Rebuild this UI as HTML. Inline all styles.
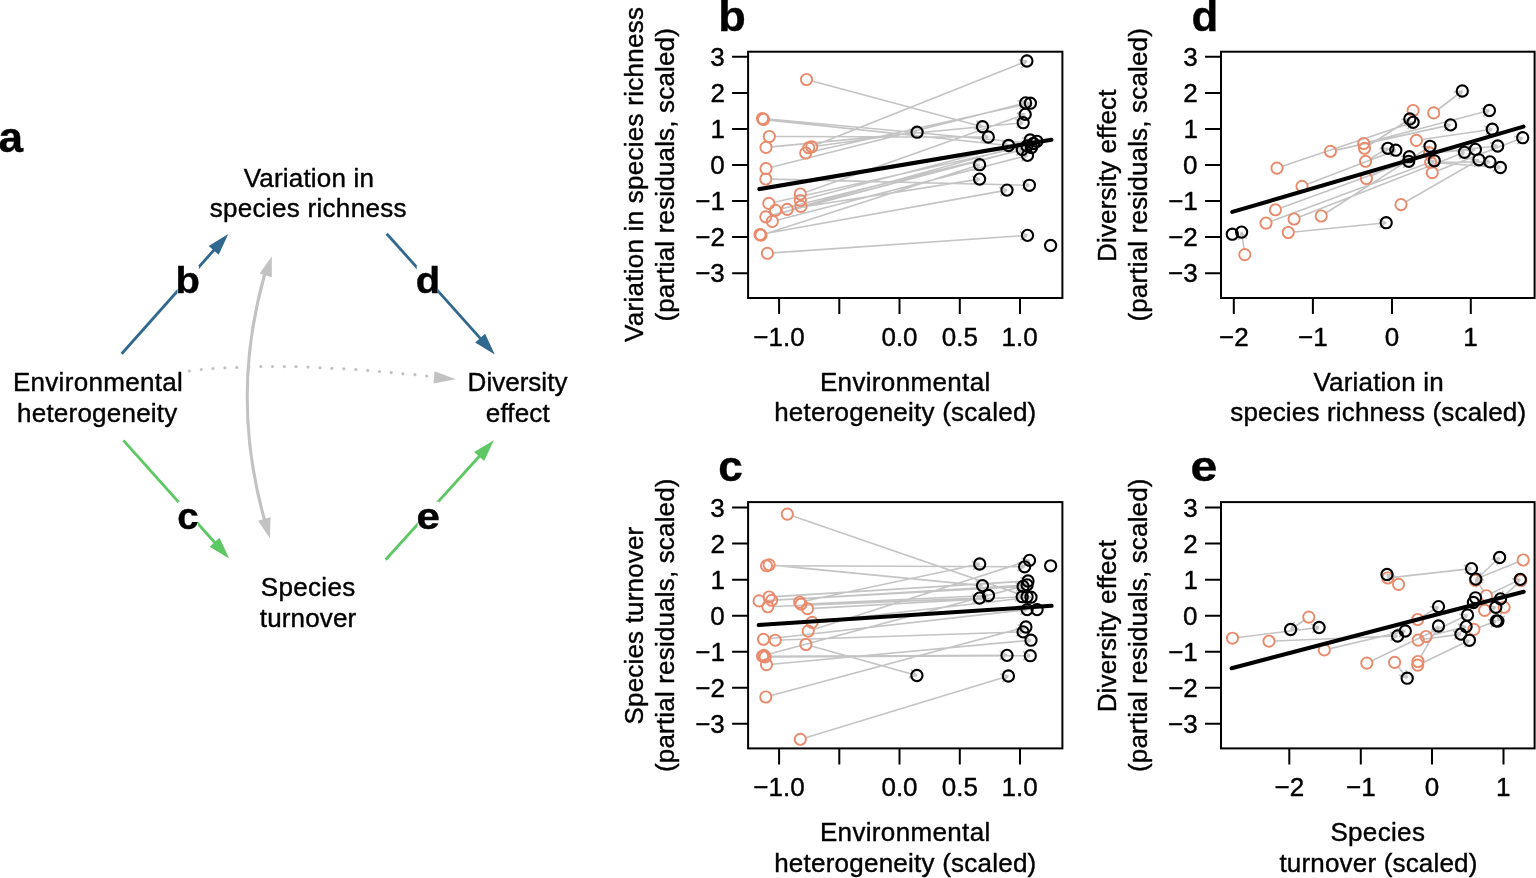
<!DOCTYPE html>
<html lang="en"><head><meta charset="utf-8"><title>Figure: environmental heterogeneity, species richness, turnover and diversity effect</title>
<style>html,body{margin:0;padding:0;background:#fff;}body{width:1536px;height:878px;overflow:hidden;}svg{display:block;}text{font-family:"Liberation Sans",Arial,Helvetica,sans-serif;font-size:26px;fill:#000;stroke:#000;stroke-width:0.4px;stroke-linejoin:round;}</style></head><body>
<svg width="1536" height="878" viewBox="0 0 1536 878">
<rect width="1536" height="878" fill="#fff"/>
<g id="pa">
<path d="M265.3 272L264.2 276Q230.2 397.5 264.3 519L265.4 523" fill="none" stroke="#c2c2c2" stroke-width="3.1" stroke-linejoin="round"/>
<polygon points="271.8,256.2 259.7,273.6 271.8,277.3" fill="#c2c2c2"/>
<polygon points="269.9,538.3 258.0,520.8 270.6,517.2" fill="#c2c2c2"/>
<circle cx="189.3" cy="371" r="1.6" fill="#c2c2c2"/>
<circle cx="201.3" cy="369.5" r="1.6" fill="#c2c2c2"/>
<circle cx="213" cy="368.5" r="1.6" fill="#c2c2c2"/>
<circle cx="224.9" cy="367.8" r="1.6" fill="#c2c2c2"/>
<circle cx="236.8" cy="367.4" r="1.6" fill="#c2c2c2"/>
<circle cx="248.8" cy="366.9" r="1.6" fill="#c2c2c2"/>
<circle cx="260.8" cy="366.6" r="1.6" fill="#c2c2c2"/>
<circle cx="272.5" cy="366.5" r="1.6" fill="#c2c2c2"/>
<circle cx="284.3" cy="366.6" r="1.6" fill="#c2c2c2"/>
<circle cx="296" cy="366.7" r="1.6" fill="#c2c2c2"/>
<circle cx="308" cy="367.1" r="1.6" fill="#c2c2c2"/>
<circle cx="320" cy="367.8" r="1.6" fill="#c2c2c2"/>
<circle cx="331.9" cy="368.3" r="1.6" fill="#c2c2c2"/>
<circle cx="343.8" cy="368.8" r="1.6" fill="#c2c2c2"/>
<circle cx="355.8" cy="369.5" r="1.6" fill="#c2c2c2"/>
<circle cx="367.7" cy="370.4" r="1.6" fill="#c2c2c2"/>
<circle cx="379.5" cy="371.5" r="1.6" fill="#c2c2c2"/>
<circle cx="391.2" cy="372.6" r="1.6" fill="#c2c2c2"/>
<circle cx="402.9" cy="373.8" r="1.6" fill="#c2c2c2"/>
<circle cx="415" cy="374.7" r="1.6" fill="#c2c2c2"/>
<circle cx="426.7" cy="376" r="1.6" fill="#c2c2c2"/>
<polygon points="455.7,379.3 434.5,371.2 433.6,383.6" fill="#c2c2c2"/>
<line x1="121.7" y1="353.7" x2="214.34" y2="249.59" stroke="#31688e" stroke-width="2.8"/><polygon points="228.3,233.9 218.68,254.79 208.67,245.88" fill="#31688e"/>
<line x1="386.7" y1="233.7" x2="480.8" y2="338.85" stroke="#31688e" stroke-width="2.8"/><polygon points="494.8,354.5 475.14,342.57 485.12,333.64" fill="#31688e"/>
<line x1="123.4" y1="440.4" x2="215.19" y2="542.95" stroke="#5dc863" stroke-width="2.8"/><polygon points="229.2,558.6 209.54,546.68 219.52,537.74" fill="#5dc863"/>
<line x1="385.6" y1="559.7" x2="479.8" y2="455.76" stroke="#5dc863" stroke-width="2.8"/><polygon points="493.9,440.2 484.09,461 474.16,452" fill="#5dc863"/>
<rect x="177.5" y="265.7" width="21.4" height="27.6" fill="#fff"/>
<text transform="translate(178.1 292.7) scale(1.0811 1)" x="-2.41" y="0" font-weight="bold" style="font-size:37px">b</text>
<rect x="416.7" y="265.7" width="21.4" height="27.6" fill="#fff"/>
<text transform="translate(417.3 292.7) scale(1.0811 1)" x="-1.48" y="0" font-weight="bold" style="font-size:37px">d</text>
<rect x="178.2" y="501.7" width="19.8" height="27.6" fill="#fff"/>
<text transform="translate(178.8 528.7) scale(1.0365 1)" x="-1.48" y="0" font-weight="bold" style="font-size:37px">c</text>
<rect x="417.7" y="501.7" width="21.4" height="27.6" fill="#fff"/>
<text transform="translate(418.3 528.7) scale(1.1374 1)" x="-1.48" y="0" font-weight="bold" style="font-size:37px">e</text>
<text x="243.67" y="186.5" textLength="130.29" lengthAdjust="spacing">Variation in</text>
<text x="209.72" y="217.2" textLength="196.75" lengthAdjust="spacing">species richness</text>
<text x="12.92" y="391.2" textLength="169.83" lengthAdjust="spacing">Environmental</text>
<text x="17.08" y="421.8" textLength="160.16" lengthAdjust="spacing">heterogeneity</text>
<text x="467.62" y="391.4" textLength="99.77" lengthAdjust="spacing">Diversity</text>
<text x="485.83" y="421.7" textLength="63.87" lengthAdjust="spacing">effect</text>
<text x="260.73" y="596.3" textLength="94.52" lengthAdjust="spacing">Species</text>
<text x="259.81" y="626.8" textLength="96.37" lengthAdjust="spacing">turnover</text>
<text transform="translate(-0.3 151.9) scale(1.0259 1)" x="-1.29" y="0" font-weight="bold" style="font-size:43px">a</text>
</g>
<g id="pb">
<path d="M811.91 80.95L982.5 126.7M976.49 120.69L982.5 126.7M974.29 128.9L982.5 126.7M768.08 119.01L1033.5 143.5M1026.56 138.59L1033.5 143.5M1025.78 147.06L1033.5 143.5M769.07 120.09L1008.6 145.5M1001.73 140.5L1008.6 145.5M1000.83 148.95L1008.6 145.5M774.9 136.51L988.3 137M980.95 132.73L988.3 137M980.93 141.23L988.3 137M771.57 146.86L1023.2 122.7M1015.47 119.17L1023.2 122.7M1016.28 127.63L1023.2 122.7M817.25 146.03L917.1 132.2M909.23 129L917.1 132.2M910.39 137.42L917.1 132.2M813.9 145.73L1026.9 61M1018.49 59.77L1026.9 61M1021.63 67.67L1026.9 61M811.17 151.79L1030.4 103.2M1022.29 100.64L1030.4 103.2M1024.13 108.94L1030.4 103.2M771.43 167.23L1025.6 102.9M1017.42 100.59L1025.6 102.9M1019.51 108.83L1025.6 102.9M771.4 179.13L1029.4 185.3M1022.14 180.88L1029.4 185.3M1021.94 189.37L1029.4 185.3M805.58 192.13L1025.2 114.4M1016.84 112.85L1025.2 114.4M1019.68 120.86L1025.2 114.4M805.72 199.07L1030.2 140M1022 137.76L1030.2 140M1024.16 145.98L1030.2 140M806.3 204.91L1036.9 141.3M1028.67 139.16L1036.9 141.3M1030.93 147.35L1036.9 141.3M774.27 202.18L1027 146M1018.89 143.45L1027 146M1020.74 151.75L1027 146M780.94 208.97L1031.5 147.5M1023.34 145.13L1031.5 147.5M1025.36 153.38L1031.5 147.5M792.73 208.53L979.6 179.1M971.67 176.05L979.6 179.1M972.99 184.44L979.6 179.1M771.22 215.38L1022.3 149.5M1014.1 147.26L1022.3 149.5M1016.26 155.48L1022.3 149.5M777.72 220L1027.5 155.4M1019.31 153.13L1027.5 155.4M1021.44 161.36L1027.5 155.4M765.51 233.51L1007 190.1M999 187.22L1007 190.1M1000.51 195.59L1007 190.1M766.33 233.48L979.6 164.7M971.29 162.91L979.6 164.7M973.9 171L979.6 164.7M772.99 252.92L1027.5 235.4M1019.86 231.67L1027.5 235.4M1020.45 240.15L1027.5 235.4" stroke="#c4c4c4" stroke-width="1.6" fill="none"/>
<g fill="none" stroke="#e98a6c" stroke-width="1.9">
<circle cx="806.5" cy="79.5" r="5.6"/>
<circle cx="762.5" cy="118.5" r="5.6"/>
<circle cx="763.5" cy="119.5" r="5.6"/>
<circle cx="769.3" cy="136.5" r="5.6"/>
<circle cx="766" cy="147.4" r="5.6"/>
<circle cx="811.7" cy="146.8" r="5.6"/>
<circle cx="808.7" cy="147.8" r="5.6"/>
<circle cx="805.7" cy="153" r="5.6"/>
<circle cx="766" cy="168.6" r="5.6"/>
<circle cx="765.8" cy="179" r="5.6"/>
<circle cx="800.3" cy="194" r="5.6"/>
<circle cx="800.3" cy="200.5" r="5.6"/>
<circle cx="800.9" cy="206.4" r="5.6"/>
<circle cx="768.8" cy="203.4" r="5.6"/>
<circle cx="775.5" cy="210.3" r="5.6"/>
<circle cx="787.2" cy="209.4" r="5.6"/>
<circle cx="765.8" cy="216.8" r="5.6"/>
<circle cx="772.3" cy="221.4" r="5.6"/>
<circle cx="760" cy="234.5" r="5.6"/>
<circle cx="761" cy="235.2" r="5.6"/>
<circle cx="767.4" cy="253.3" r="5.6"/>
</g>
<g fill="none" stroke="#000" stroke-width="2.1">
<circle cx="1026.9" cy="61" r="5.6"/>
<circle cx="1025.6" cy="102.9" r="5.6"/>
<circle cx="1030.4" cy="103.2" r="5.6"/>
<circle cx="1025.2" cy="114.4" r="5.6"/>
<circle cx="1023.2" cy="122.7" r="5.6"/>
<circle cx="982.5" cy="126.7" r="5.6"/>
<circle cx="988.3" cy="137" r="5.6"/>
<circle cx="917.1" cy="132.2" r="5.6"/>
<circle cx="1008.6" cy="145.5" r="5.6"/>
<circle cx="1030.2" cy="140" r="5.6"/>
<circle cx="1036.9" cy="141.3" r="5.6"/>
<circle cx="1027" cy="146" r="5.6"/>
<circle cx="1022.3" cy="149.5" r="5.6"/>
<circle cx="1031.5" cy="147.5" r="5.6"/>
<circle cx="1027.5" cy="155.4" r="5.6"/>
<circle cx="1033.5" cy="143.5" r="5.6"/>
<circle cx="979.6" cy="164.7" r="5.6"/>
<circle cx="979.6" cy="179.1" r="5.6"/>
<circle cx="1007" cy="190.1" r="5.6"/>
<circle cx="1029.4" cy="185.3" r="5.6"/>
<circle cx="1027.5" cy="235.4" r="5.6"/>
<circle cx="1050.6" cy="245.5" r="5.6"/>
</g>
<line x1="759.4" y1="189.1" x2="1051.4" y2="139.7" stroke="#000" stroke-width="4.1" stroke-linecap="round"/>
<rect x="748.1" y="51.7" width="314.3" height="246.3" fill="none" stroke="#000" stroke-width="2"/>
<text transform="translate(711.38 66.15) scale(1.0000 1)" x="-1.04" y="0">3</text>
<text transform="translate(711.77 102.2) scale(1.0000 1)" x="-1.3" y="0">2</text>
<text transform="translate(712.42 138.25) scale(1.0000 1)" x="-1.95" y="0">1</text>
<text transform="translate(711.25 174.3) scale(1.0000 1)" x="-1.04" y="0">0</text>
<text x="695.26" y="210.35" textLength="29.64" lengthAdjust="spacing">−1</text>
<text x="695.26" y="246.4" textLength="29.64" lengthAdjust="spacing">−2</text>
<text x="695.13" y="282.45" textLength="29.64" lengthAdjust="spacing">−3</text>
<text x="753.3" y="345.6" textLength="51.33" lengthAdjust="spacing">−1.0</text>
<text x="881.43" y="345.6" textLength="36.14" lengthAdjust="spacing">0.0</text>
<text x="941.73" y="345.6" textLength="36.14" lengthAdjust="spacing">0.5</text>
<text x="1001.47" y="345.6" textLength="36.14" lengthAdjust="spacing">1.0</text>
<path d="M732.1 56.85H748.1M732.1 92.9H748.1M732.1 128.95H748.1M732.1 165H748.1M732.1 201.05H748.1M732.1 237.1H748.1M732.1 273.15H748.1M779.1 298V314M839.3 298V314M899.5 298V314M959.8 298V314M1020 298V314" stroke="#000" stroke-width="2" fill="none"/>
<text transform="translate(642.9 341.75) rotate(-90)" x="-0.13" y="0" textLength="334.81" lengthAdjust="spacing">Variation in species richness</text>
<text transform="translate(674.1 320.05) rotate(-90)" x="-1.56" y="0" textLength="293.55" lengthAdjust="spacing">(partial residuals, scaled)</text>
<text x="819.92" y="391" textLength="170.33" lengthAdjust="spacing">Environmental</text>
<text x="774.13" y="421.4" textLength="262.11" lengthAdjust="spacing">heterogeneity (scaled)</text>
<text transform="translate(721.1 30.5) scale(1.0500 1)" x="-2.79" y="0" font-weight="bold" style="font-size:43px">b</text>
</g>
<g id="pc">
<path d="M792.59 515.92L1027.1 596.7M1021.52 590.28L1027.1 596.7M1018.76 598.32L1027.1 596.7M772.1 565.82L1024.6 566.8M1017.26 562.52L1024.6 566.8M1017.22 571.02L1024.6 566.8M774.67 565.34L982.5 585.6M975.59 580.66L982.5 585.6M974.76 589.12L982.5 585.6M764.69 600.59L1023.1 586.4M1015.52 582.56L1023.1 586.4M1015.98 591.05L1023.1 586.4M774.69 596.65L1028 581M1020.39 577.21L1028 581M1020.91 585.7L1028 581M777.29 599.96L1027.1 584.9M1019.5 581.1L1027.1 584.9M1020.01 589.59L1027.1 584.9M773.4 606.57L979.5 598.1M971.97 594.16L979.5 598.1M972.32 602.65L979.5 598.1M805.18 601.04L979.7 564M971.62 561.37L979.7 564M973.38 569.69L979.7 564M806.59 603.94L988.5 595.5M980.95 591.6L988.5 595.5M981.34 600.09L988.5 595.5M813.09 608.39L1022.2 596.7M1014.61 592.87L1022.2 596.7M1015.09 601.35L1022.2 596.7M817.66 621.76L1031 597.2M1023.2 593.82L1031 597.2M1024.17 602.26L1031 597.2M813.53 629.4L1029.5 560.4M1021.19 558.59L1029.5 560.4M1023.78 566.69L1029.5 560.4M769.06 638.67L1027.1 609.6M1019.31 606.2L1027.1 609.6M1020.26 614.65L1027.1 609.6M780.8 640.01L1023.1 631.9M1015.6 627.9L1023.1 631.9M1015.89 636.39L1023.1 631.9M811.29 646.01L916.9 675.5M910.95 669.43L916.9 675.5M908.67 677.61L916.9 675.5M768.2 656.18L1007 655.4M999.62 651.17L1007 655.4M999.65 659.67L1007 655.4M770.8 656.87L1030.3 655.7M1022.92 651.48L1030.3 655.7M1022.96 659.98L1030.3 655.7M772.08 664.18L1031 640.2M1023.28 636.65L1031 640.2M1024.06 645.11L1031 640.2M771.21 695.54L1025.9 627M1017.69 624.81L1025.9 627M1019.9 633.02L1025.9 627M805.66 737.67L1008.4 676M1000.12 674.08L1008.4 676M1002.59 682.21L1008.4 676M769.31 653.95L1027.1 584.9M1018.89 582.7L1027.1 584.9M1021.09 590.91L1027.1 584.9" stroke="#c4c4c4" stroke-width="1.6" fill="none"/>
<g fill="none" stroke="#e98a6c" stroke-width="1.9">
<circle cx="787.3" cy="514.1" r="5.6"/>
<circle cx="766.5" cy="565.8" r="5.6"/>
<circle cx="769.1" cy="564.8" r="5.6"/>
<circle cx="759.1" cy="600.9" r="5.6"/>
<circle cx="769.1" cy="597" r="5.6"/>
<circle cx="771.7" cy="600.3" r="5.6"/>
<circle cx="767.8" cy="606.8" r="5.6"/>
<circle cx="799.7" cy="602.2" r="5.6"/>
<circle cx="801" cy="604.2" r="5.6"/>
<circle cx="807.5" cy="608.7" r="5.6"/>
<circle cx="812.1" cy="622.4" r="5.6"/>
<circle cx="808.2" cy="631.1" r="5.6"/>
<circle cx="763.5" cy="639.3" r="5.6"/>
<circle cx="775.2" cy="640.2" r="5.6"/>
<circle cx="805.9" cy="644.5" r="5.6"/>
<circle cx="762.6" cy="656.2" r="5.6"/>
<circle cx="765.2" cy="656.9" r="5.6"/>
<circle cx="766.5" cy="664.7" r="5.6"/>
<circle cx="765.8" cy="697" r="5.6"/>
<circle cx="800.3" cy="739.3" r="5.6"/>
<circle cx="763.9" cy="655.4" r="5.6"/>
</g>
<g fill="none" stroke="#000" stroke-width="2.1">
<circle cx="979.7" cy="564" r="5.6"/>
<circle cx="982.5" cy="585.6" r="5.6"/>
<circle cx="979.5" cy="598.1" r="5.6"/>
<circle cx="988.5" cy="595.5" r="5.6"/>
<circle cx="1029.5" cy="560.4" r="5.6"/>
<circle cx="1024.6" cy="566.8" r="5.6"/>
<circle cx="1050.6" cy="565.8" r="5.6"/>
<circle cx="1028" cy="581" r="5.6"/>
<circle cx="1023.1" cy="586.4" r="5.6"/>
<circle cx="1027.1" cy="584.9" r="5.6"/>
<circle cx="1022.2" cy="596.7" r="5.6"/>
<circle cx="1027.1" cy="596.7" r="5.6"/>
<circle cx="1031" cy="597.2" r="5.6"/>
<circle cx="1027.1" cy="609.6" r="5.6"/>
<circle cx="1037.1" cy="609.6" r="5.6"/>
<circle cx="1025.9" cy="627" r="5.6"/>
<circle cx="1023.1" cy="631.9" r="5.6"/>
<circle cx="1031" cy="640.2" r="5.6"/>
<circle cx="1007" cy="655.4" r="5.6"/>
<circle cx="1030.3" cy="655.7" r="5.6"/>
<circle cx="1008.4" cy="676" r="5.6"/>
<circle cx="916.9" cy="675.5" r="5.6"/>
</g>
<line x1="758.7" y1="625" x2="1051.6" y2="605.8" stroke="#000" stroke-width="4.1" stroke-linecap="round"/>
<rect x="748.1" y="502.1" width="314.3" height="246.3" fill="none" stroke="#000" stroke-width="2"/>
<text transform="translate(711.38 516.85) scale(1.0000 1)" x="-1.04" y="0">3</text>
<text transform="translate(711.77 552.9) scale(1.0000 1)" x="-1.3" y="0">2</text>
<text transform="translate(712.42 588.95) scale(1.0000 1)" x="-1.95" y="0">1</text>
<text transform="translate(711.25 625) scale(1.0000 1)" x="-1.04" y="0">0</text>
<text x="695.26" y="661.05" textLength="29.64" lengthAdjust="spacing">−1</text>
<text x="695.26" y="697.1" textLength="29.64" lengthAdjust="spacing">−2</text>
<text x="695.13" y="733.15" textLength="29.64" lengthAdjust="spacing">−3</text>
<text x="753.3" y="796" textLength="51.33" lengthAdjust="spacing">−1.0</text>
<text x="881.43" y="796" textLength="36.14" lengthAdjust="spacing">0.0</text>
<text x="941.73" y="796" textLength="36.14" lengthAdjust="spacing">0.5</text>
<text x="1001.47" y="796" textLength="36.14" lengthAdjust="spacing">1.0</text>
<path d="M732.1 507.55H748.1M732.1 543.6H748.1M732.1 579.65H748.1M732.1 615.7H748.1M732.1 651.75H748.1M732.1 687.8H748.1M732.1 723.85H748.1M779.1 748.4V764.4M839.3 748.4V764.4M899.5 748.4V764.4M959.8 748.4V764.4M1020 748.4V764.4" stroke="#000" stroke-width="2" fill="none"/>
<text transform="translate(642.9 723.25) rotate(-90)" x="-1.17" y="0" textLength="197.67" lengthAdjust="spacing">Species turnover</text>
<text transform="translate(674.1 770.45) rotate(-90)" x="-1.56" y="0" textLength="293.55" lengthAdjust="spacing">(partial residuals, scaled)</text>
<text x="819.92" y="841.4" textLength="170.33" lengthAdjust="spacing">Environmental</text>
<text x="774.13" y="871.8" textLength="262.11" lengthAdjust="spacing">heterogeneity (scaled)</text>
<text transform="translate(720 480.9) scale(1.0261 1)" x="-1.72" y="0" font-weight="bold" style="font-size:43px">c</text>
</g>
<g id="pd">
<path d="M1282.31 166.31L1413.1 122.3M1404.77 120.62L1413.1 122.3M1407.48 128.68L1413.1 122.3M1335.87 150.1L1450.6 124.9M1442.5 122.33L1450.6 124.9M1444.32 130.63L1450.6 124.9M1369.12 142.08L1489.4 110.5M1481.2 108.26L1489.4 110.5M1483.36 116.48L1489.4 110.5M1369.2 145.26L1409.8 119M1401.31 119.43L1409.8 119M1405.93 126.57L1409.8 119M1370.44 158.48L1387.9 148.3M1379.4 148.34L1387.9 148.3M1383.68 155.68L1387.9 148.3M1371.39 175.96L1409.3 156.7M1400.81 156.25L1409.3 156.7M1404.66 163.82L1409.3 156.7M1307.23 184.29L1395.8 150.2M1387.4 148.88L1395.8 150.2M1390.46 156.81L1395.8 150.2M1280.66 207.89L1408.7 161.3M1400.33 159.82L1408.7 161.3M1403.24 167.81L1408.7 161.3M1271.25 221.16L1434.3 160.8M1425.92 159.37L1434.3 160.8M1428.87 167.34L1434.3 160.8M1299.31 216.96L1464.5 152.3M1456.1 151.03L1464.5 152.3M1459.19 158.94L1464.5 152.3M1325.92 212.98L1430 146.3M1421.51 146.69L1430 146.3M1426.09 153.85L1430 146.3M1293.87 231.94L1386.2 222.7M1378.45 219.2L1386.2 222.7M1379.3 227.66L1386.2 222.7M1244.01 249.06L1241.6 232.1M1238.43 239.99L1241.6 232.1M1246.84 238.79L1241.6 232.1M1405.85 201.81L1478.9 159.8M1470.4 159.79L1478.9 159.8M1474.64 167.15L1478.9 159.8M1421.94 139.58L1492.3 129.2M1484.4 126.07L1492.3 129.2M1485.64 134.48L1492.3 129.2M1435.08 152.47L1475.4 149.4M1467.74 145.72L1475.4 149.4M1468.38 154.2L1475.4 149.4M1436.2 162.26L1490 161.9M1482.61 157.7L1490 161.9M1482.67 166.2L1490 161.9M1437.52 170.68L1522.7 137.7M1514.3 136.39L1522.7 137.7M1517.37 144.32L1522.7 137.7M1436.18 162.72L1500.4 167.5M1493.37 162.71L1500.4 167.5M1492.74 171.19L1500.4 167.5M1435.07 152.34L1497.7 146M1489.95 142.51L1497.7 146M1490.8 150.97L1497.7 146M1438.15 109.5L1462.3 91M1453.87 92.1L1462.3 91M1459.04 98.85L1462.3 91" stroke="#c4c4c4" stroke-width="1.6" fill="none"/>
<g fill="none" stroke="#e98a6c" stroke-width="1.9">
<circle cx="1277" cy="168.1" r="5.6"/>
<circle cx="1330.4" cy="151.3" r="5.6"/>
<circle cx="1363.7" cy="143.5" r="5.6"/>
<circle cx="1364.5" cy="148.3" r="5.6"/>
<circle cx="1365.6" cy="161.3" r="5.6"/>
<circle cx="1366.4" cy="178.5" r="5.6"/>
<circle cx="1302" cy="186.3" r="5.6"/>
<circle cx="1275.4" cy="209.8" r="5.6"/>
<circle cx="1266" cy="223.1" r="5.6"/>
<circle cx="1294.1" cy="219" r="5.6"/>
<circle cx="1321.2" cy="216" r="5.6"/>
<circle cx="1288.3" cy="232.5" r="5.6"/>
<circle cx="1244.8" cy="254.6" r="5.6"/>
<circle cx="1401" cy="204.6" r="5.6"/>
<circle cx="1416.4" cy="140.4" r="5.6"/>
<circle cx="1429.5" cy="152.9" r="5.6"/>
<circle cx="1430.6" cy="162.3" r="5.6"/>
<circle cx="1432.3" cy="172.7" r="5.6"/>
<circle cx="1413.1" cy="110.5" r="5.6"/>
<circle cx="1433.7" cy="112.9" r="5.6"/>
</g>
<g fill="none" stroke="#000" stroke-width="2.1">
<circle cx="1232.3" cy="234.2" r="5.6"/>
<circle cx="1241.6" cy="232.1" r="5.6"/>
<circle cx="1386.2" cy="222.7" r="5.6"/>
<circle cx="1387.9" cy="148.3" r="5.6"/>
<circle cx="1395.8" cy="150.2" r="5.6"/>
<circle cx="1409.3" cy="156.7" r="5.6"/>
<circle cx="1408.7" cy="161.3" r="5.6"/>
<circle cx="1430" cy="146.3" r="5.6"/>
<circle cx="1434.3" cy="160.8" r="5.6"/>
<circle cx="1464.5" cy="152.3" r="5.6"/>
<circle cx="1475.4" cy="149.4" r="5.6"/>
<circle cx="1478.9" cy="159.8" r="5.6"/>
<circle cx="1490" cy="161.9" r="5.6"/>
<circle cx="1500.4" cy="167.5" r="5.6"/>
<circle cx="1497.7" cy="146" r="5.6"/>
<circle cx="1522.7" cy="137.7" r="5.6"/>
<circle cx="1492.3" cy="129.2" r="5.6"/>
<circle cx="1450.6" cy="124.9" r="5.6"/>
<circle cx="1489.4" cy="110.5" r="5.6"/>
<circle cx="1462.3" cy="91" r="5.6"/>
<circle cx="1409.8" cy="119" r="5.6"/>
<circle cx="1413.1" cy="122.3" r="5.6"/>
</g>
<line x1="1232.3" y1="211.9" x2="1523.5" y2="126.6" stroke="#000" stroke-width="4.1" stroke-linecap="round"/>
<rect x="1221" y="51.7" width="313.6" height="246.3" fill="none" stroke="#000" stroke-width="2"/>
<text transform="translate(1184.28 66.15) scale(1.0000 1)" x="-1.04" y="0">3</text>
<text transform="translate(1184.67 102.2) scale(1.0000 1)" x="-1.3" y="0">2</text>
<text transform="translate(1185.32 138.25) scale(1.0000 1)" x="-1.95" y="0">1</text>
<text transform="translate(1184.15 174.3) scale(1.0000 1)" x="-1.04" y="0">0</text>
<text x="1168.16" y="210.35" textLength="29.64" lengthAdjust="spacing">−1</text>
<text x="1168.16" y="246.4" textLength="29.64" lengthAdjust="spacing">−2</text>
<text x="1168.03" y="282.45" textLength="29.64" lengthAdjust="spacing">−3</text>
<text x="1218.98" y="345.6" textLength="29.64" lengthAdjust="spacing">−2</text>
<text x="1298.08" y="345.6" textLength="29.64" lengthAdjust="spacing">−1</text>
<text transform="translate(1385.83 345.6) scale(1.0000 1)" x="-1.04" y="0">0</text>
<text transform="translate(1465.21 345.6) scale(1.0000 1)" x="-1.95" y="0">1</text>
<path d="M1205 56.85H1221M1205 92.9H1221M1205 128.95H1221M1205 165H1221M1205 201.05H1221M1205 237.1H1221M1205 273.15H1221M1233.8 298V314M1312.9 298V314M1392 298V314M1470.8 298V314" stroke="#000" stroke-width="2" fill="none"/>
<text transform="translate(1115.8 259.85) rotate(-90)" x="-2.08" y="0" textLength="172.32" lengthAdjust="spacing">Diversity effect</text>
<text transform="translate(1147 320.05) rotate(-90)" x="-1.56" y="0" textLength="293.55" lengthAdjust="spacing">(partial residuals, scaled)</text>
<text x="1313.42" y="391" textLength="130.29" lengthAdjust="spacing">Variation in</text>
<text x="1230.27" y="421.4" textLength="295.89" lengthAdjust="spacing">species richness (scaled)</text>
<text transform="translate(1193.3 30.5) scale(1.0177 1)" x="-1.72" y="0" font-weight="bold" style="font-size:43px">d</text>
</g>
<g id="pe">
<path d="M1238.06 637.51L1319.1 627.5M1311.27 624.18L1319.1 627.5M1312.32 632.62L1319.1 627.5M1274.6 640.97L1397.6 636M1390.07 632.05L1397.6 636M1390.42 640.54L1397.6 636M1304.17 620.25L1290.6 629.5M1299.08 628.87L1290.6 629.5M1294.29 621.84L1290.6 629.5M1329.75 648.63L1405.3 631M1397.17 628.53L1405.3 631M1399.1 636.81L1405.3 631M1371.85 660.69L1467.5 615M1459.03 614.34L1467.5 615M1462.69 622.01L1467.5 615M1398.09 666.78L1407.2 678.2M1405.93 669.79L1407.2 678.2M1399.29 675.09L1407.2 678.2M1393.37 577.38L1471.5 568.6M1463.71 565.2L1471.5 568.6M1464.66 573.64L1471.5 568.6M1394.34 580.76L1387 574.5M1389.84 582.51L1387 574.5M1395.36 576.05L1387 574.5M1422.46 616.55L1438.5 606.6M1430 606.87L1438.5 606.6M1434.48 614.09L1438.5 606.6M1431.44 635.16L1466.1 626.6M1457.93 624.24L1466.1 626.6M1459.97 632.49L1466.1 626.6M1423.75 639.32L1460.9 634.1M1453.02 630.92L1460.9 634.1M1454.2 639.33L1460.9 634.1M1420.8 656.65L1438.5 626M1431.14 630.25L1438.5 626M1438.5 634.5L1438.5 626M1422.75 662.68L1469.4 640.3M1460.92 639.65L1469.4 640.3M1464.6 647.32L1469.4 640.3M1479.14 627.41L1496.3 620.9M1487.91 619.54L1496.3 620.9M1490.93 627.49L1496.3 620.9M1490 608.91L1495.8 607.3M1487.57 605.17L1495.8 607.3M1489.84 613.36L1495.8 607.3M1501.81 612.41L1497.9 621.1M1504.79 616.13L1497.9 621.1M1497.04 612.64L1497.9 621.1M1491.45 593.27L1520.3 579.4M1511.82 578.76L1520.3 579.4M1515.51 586.42L1520.3 579.4M1483.39 590.98L1475.8 579.1M1476.18 587.59L1475.8 579.1M1483.34 583.02L1475.8 579.1M1479.38 576.47L1499.6 557.5M1491.32 559.44L1499.6 557.5M1497.14 565.64L1499.6 557.5M1516.73 584.34L1500.5 598.9M1508.82 597.15L1500.5 598.9M1503.14 590.82L1500.5 598.9M1518.01 562.09L1475.8 579.1M1484.22 580.29L1475.8 579.1M1481.04 572.41L1475.8 579.1" stroke="#c4c4c4" stroke-width="1.6" fill="none"/>
<g fill="none" stroke="#e98a6c" stroke-width="1.9">
<circle cx="1232.5" cy="638.2" r="5.6"/>
<circle cx="1269" cy="641.2" r="5.6"/>
<circle cx="1308.8" cy="617.1" r="5.6"/>
<circle cx="1324.3" cy="649.9" r="5.6"/>
<circle cx="1366.8" cy="663.1" r="5.6"/>
<circle cx="1394.6" cy="662.4" r="5.6"/>
<circle cx="1387.8" cy="578" r="5.6"/>
<circle cx="1398.6" cy="584.4" r="5.6"/>
<circle cx="1417.7" cy="619.5" r="5.6"/>
<circle cx="1426" cy="636.5" r="5.6"/>
<circle cx="1418.2" cy="640.1" r="5.6"/>
<circle cx="1418" cy="661.5" r="5.6"/>
<circle cx="1417.7" cy="665.1" r="5.6"/>
<circle cx="1473.9" cy="629.4" r="5.6"/>
<circle cx="1484.6" cy="610.4" r="5.6"/>
<circle cx="1504.1" cy="607.3" r="5.6"/>
<circle cx="1486.4" cy="595.7" r="5.6"/>
<circle cx="1475.3" cy="580.3" r="5.6"/>
<circle cx="1520.9" cy="580.6" r="5.6"/>
<circle cx="1523.2" cy="560" r="5.6"/>
</g>
<g fill="none" stroke="#000" stroke-width="2.1">
<circle cx="1290.6" cy="629.5" r="5.6"/>
<circle cx="1319.1" cy="627.5" r="5.6"/>
<circle cx="1397.6" cy="636" r="5.6"/>
<circle cx="1405.3" cy="631" r="5.6"/>
<circle cx="1407.2" cy="678.2" r="5.6"/>
<circle cx="1387" cy="574.5" r="5.6"/>
<circle cx="1438.5" cy="606.6" r="5.6"/>
<circle cx="1438.5" cy="626" r="5.6"/>
<circle cx="1467.5" cy="615" r="5.6"/>
<circle cx="1466.1" cy="626.6" r="5.6"/>
<circle cx="1460.9" cy="634.1" r="5.6"/>
<circle cx="1469.4" cy="640.3" r="5.6"/>
<circle cx="1473.4" cy="602.5" r="5.6"/>
<circle cx="1475.5" cy="597.8" r="5.6"/>
<circle cx="1471.5" cy="568.6" r="5.6"/>
<circle cx="1475.8" cy="579.1" r="5.6"/>
<circle cx="1499.6" cy="557.5" r="5.6"/>
<circle cx="1500.5" cy="598.9" r="5.6"/>
<circle cx="1495.8" cy="607.3" r="5.6"/>
<circle cx="1496.3" cy="620.9" r="5.6"/>
<circle cx="1497.9" cy="621.1" r="5.6"/>
<circle cx="1520.3" cy="579.4" r="5.6"/>
</g>
<line x1="1231.6" y1="668.2" x2="1523.7" y2="591.8" stroke="#000" stroke-width="4.1" stroke-linecap="round"/>
<rect x="1221" y="502.1" width="313.6" height="246.3" fill="none" stroke="#000" stroke-width="2"/>
<text transform="translate(1184.28 516.85) scale(1.0000 1)" x="-1.04" y="0">3</text>
<text transform="translate(1184.67 552.9) scale(1.0000 1)" x="-1.3" y="0">2</text>
<text transform="translate(1185.32 588.95) scale(1.0000 1)" x="-1.95" y="0">1</text>
<text transform="translate(1184.15 625) scale(1.0000 1)" x="-1.04" y="0">0</text>
<text x="1168.16" y="661.05" textLength="29.64" lengthAdjust="spacing">−1</text>
<text x="1168.16" y="697.1" textLength="29.64" lengthAdjust="spacing">−2</text>
<text x="1168.03" y="733.15" textLength="29.64" lengthAdjust="spacing">−3</text>
<text x="1274.48" y="796" textLength="29.64" lengthAdjust="spacing">−2</text>
<text x="1345.98" y="796" textLength="29.64" lengthAdjust="spacing">−1</text>
<text transform="translate(1425.83 796) scale(1.0000 1)" x="-1.04" y="0">0</text>
<text transform="translate(1497.91 796) scale(1.0000 1)" x="-1.95" y="0">1</text>
<path d="M1205 507.55H1221M1205 543.6H1221M1205 579.65H1221M1205 615.7H1221M1205 651.75H1221M1205 687.8H1221M1205 723.85H1221M1289.3 748.4V764.4M1360.8 748.4V764.4M1432 748.4V764.4M1503.5 748.4V764.4" stroke="#000" stroke-width="2" fill="none"/>
<text transform="translate(1115.8 710.25) rotate(-90)" x="-2.08" y="0" textLength="172.32" lengthAdjust="spacing">Diversity effect</text>
<text transform="translate(1147 770.45) rotate(-90)" x="-1.56" y="0" textLength="293.55" lengthAdjust="spacing">(partial residuals, scaled)</text>
<text x="1330.38" y="841.4" textLength="94.52" lengthAdjust="spacing">Species</text>
<text x="1279.46" y="871.8" textLength="197.93" lengthAdjust="spacing">turnover (scaled)</text>
<text transform="translate(1192.3 480.9) scale(1.1192 1)" x="-1.72" y="0" font-weight="bold" style="font-size:43px">e</text>
</g>
</svg></body></html>
